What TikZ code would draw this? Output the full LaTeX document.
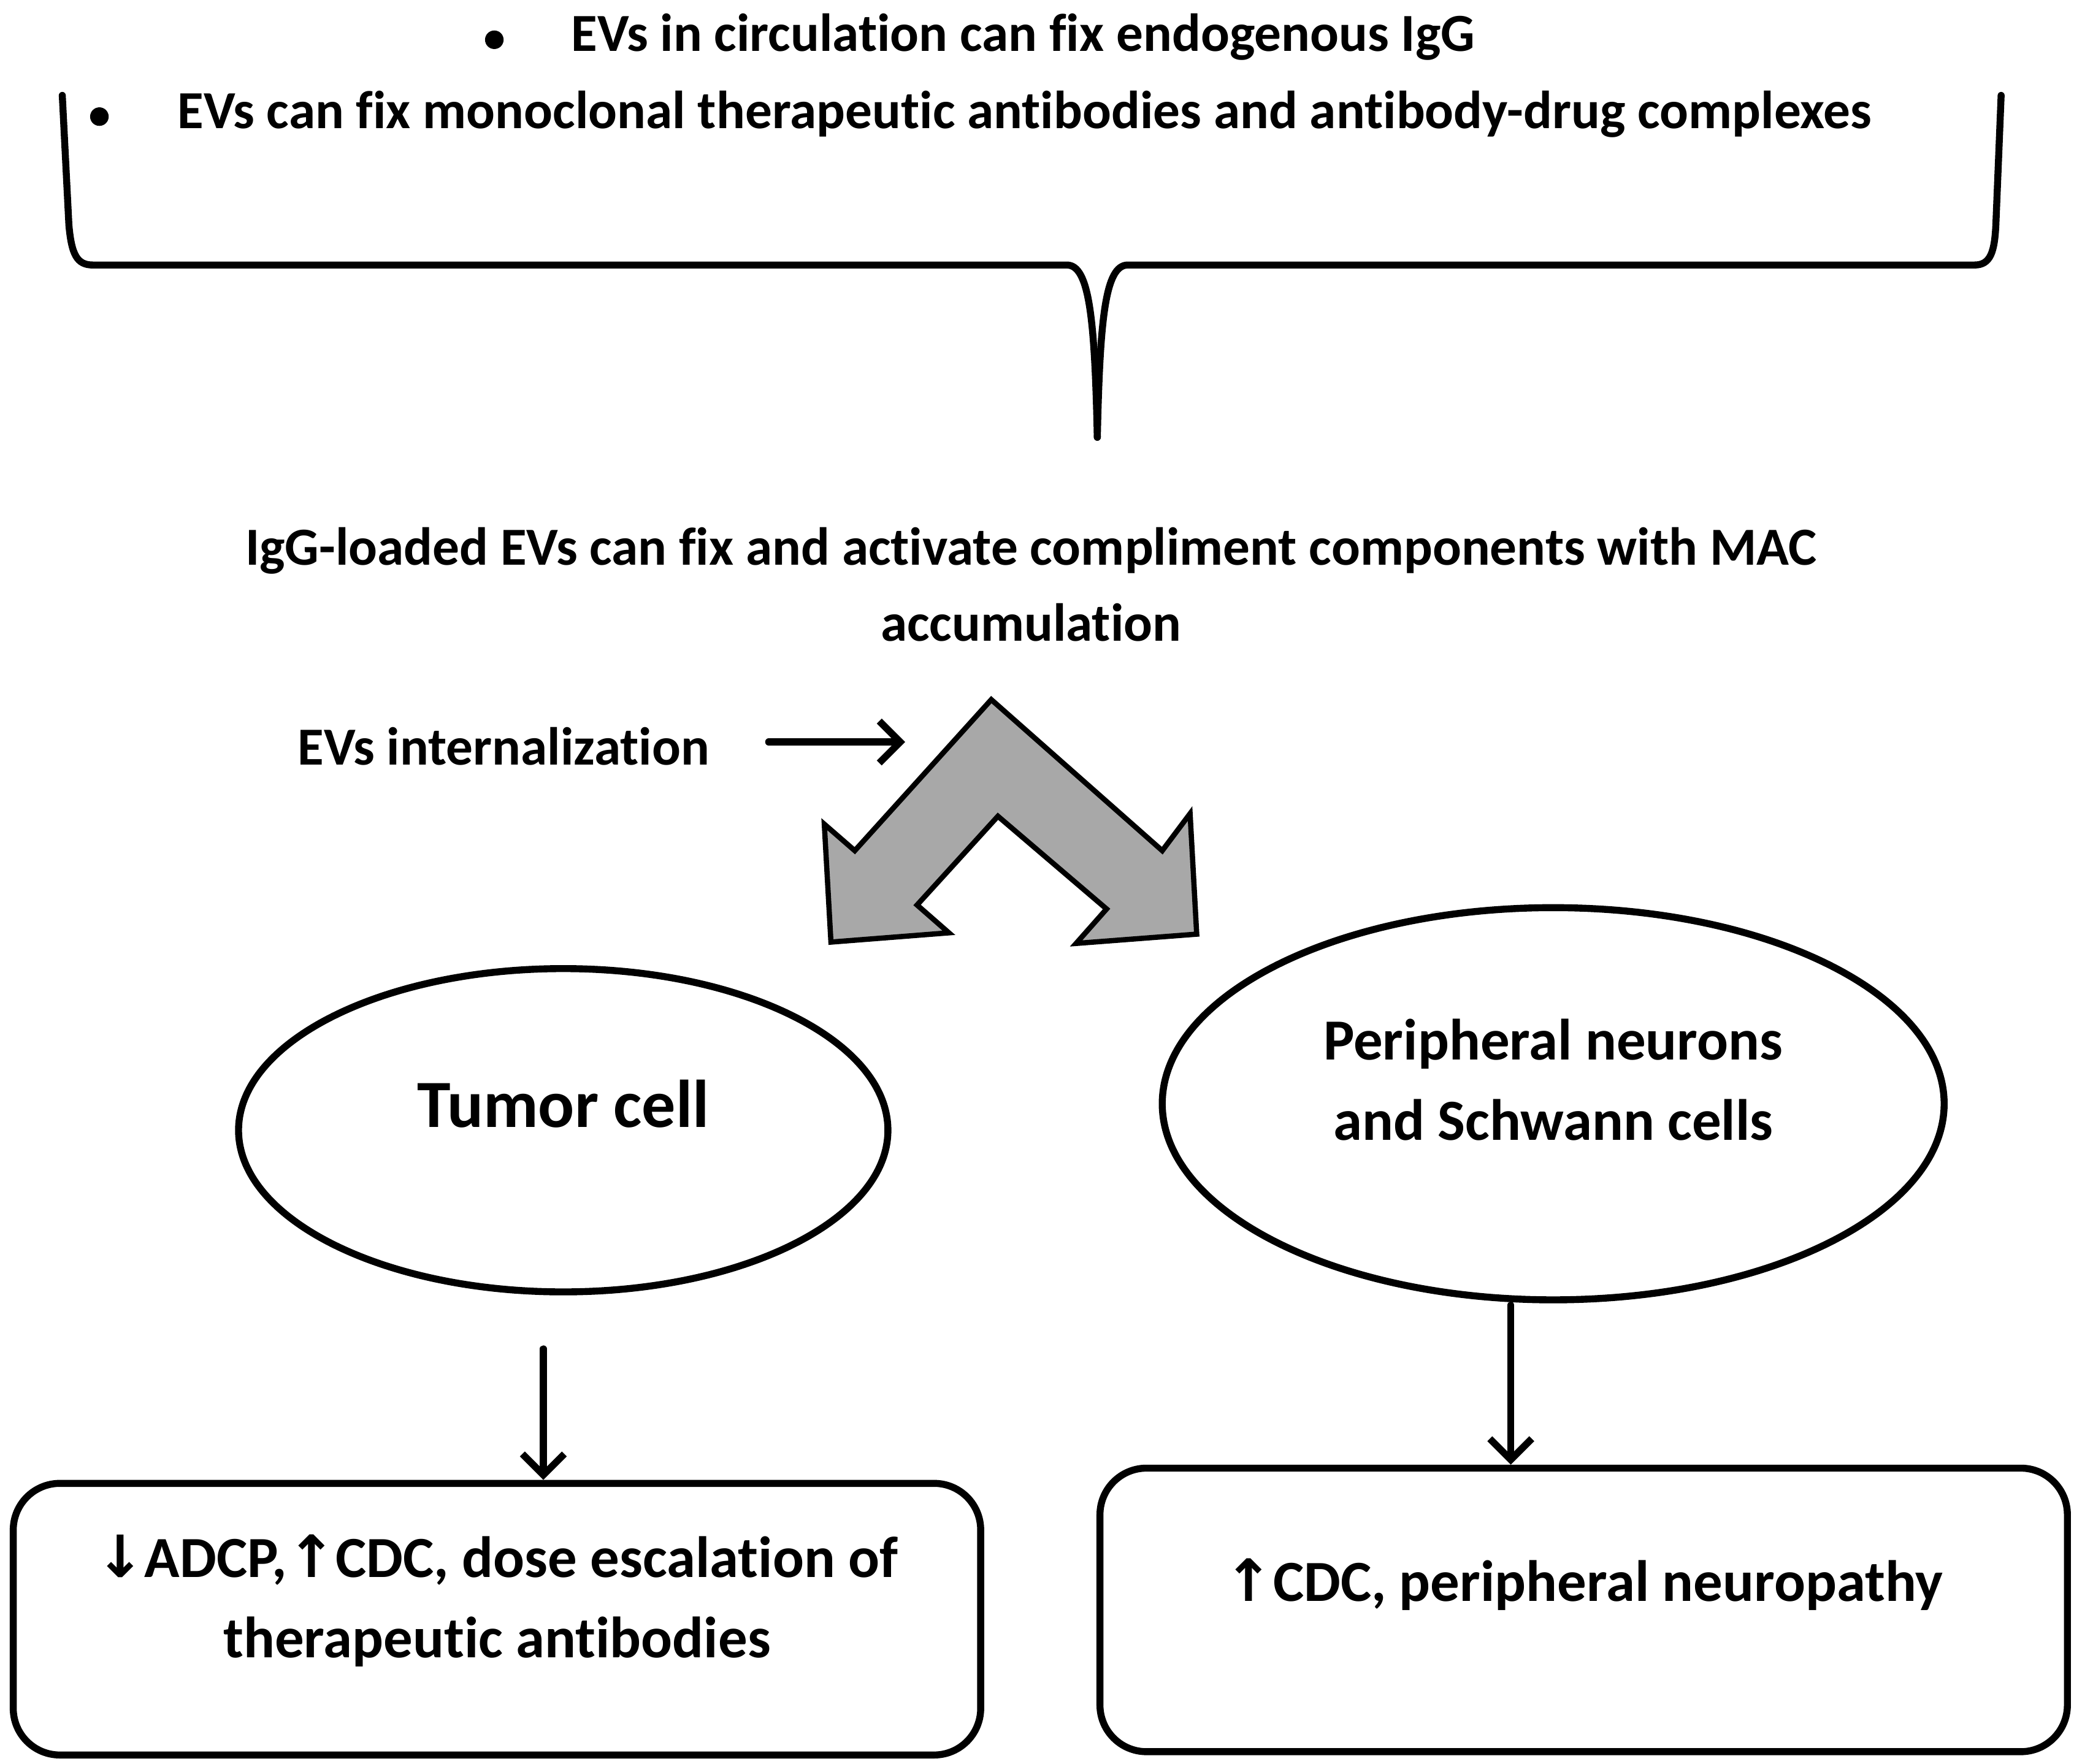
\documentclass[tikz,border=0pt]{standalone}
\usepackage{fontspec}
\setmainfont{Carlito}[Ligatures={NoCommon}]
\newfontfamily\arrf{DejaVu Sans}
\usetikzlibrary{arrows.meta,shapes.geometric}
\begin{document}
\begin{tikzpicture}[x=0.04cm,y=-0.04cm,
  txt/.style={font=\fontsize{46}{65}\selectfont\bfseries, align=center},
  txtb/.style={font=\fontsize{50}{69}\selectfont\bfseries, align=center},
  ln/.style={line width=6pt, line cap=round, line join=round},
  arr/.style={ln, -{Straight Barb[length=18pt,width=36pt,line width=6pt]}},
  ell/.style={ellipse, draw, line width=6pt, inner sep=0pt},
  box/.style={draw, line width=6pt, rounded corners=40pt}]
\useasboundingbox (0,0) rectangle (1565,1331);
% bullets
\fill (373,30) circle (7);
\fill (75,88) circle (7);
\node[txt, anchor=west] (b1) at (428,28) {EVs in circulation can fix endogenous IgG};
\node[txt, anchor=west] (b2) at (131,86) {EVs can fix monoclonal therapeutic antibodies and antibody-drug complexes};
% brace
\draw[ln] (47,72) -- (52,170) .. controls (54,192) and (58,200) .. (70,200) -- (805,200)
  .. controls (822,200) and (826,240) .. (828,330);
\draw[ln] (828,330) .. controls (830,240) and (834,200) .. (851,200) -- (1490,200)
  .. controls (1502,200) and (1505,190) .. (1506,170) -- (1510,72);
% middle text
\node[txt] (mid) at (778,441) {IgG-loaded EVs can fix and activate compliment components with MAC\\accumulation};
\node[txt] (int) at (380,563) {EVs internalization};
\coordinate (a0) at (580,560);
\coordinate (a1) at (683,560);
\draw[arr] (a0) -- (a1);
% chevron
\draw[fill=black!34, line width=4.5pt, line join=miter]
 (748,528) -- (877,642) -- (898,614) -- (903,705) -- (812,712) -- (835,686) -- (753,616)
 -- (692,683) -- (716,704) -- (627,711) -- (622,622) -- (645,642) -- cycle;
% ellipses
\node[ell, minimum width=490*0.04cm, minimum height=244*0.04cm] (e1) at (425,853) {};
\node[font=\fontsize{58}{70}\selectfont\bfseries] (t1) at (425,833) {Tumor cell};
\node[ell, minimum width=590*0.04cm, minimum height=296*0.04cm] (e2) at (1172,833) {};
\node[txtb] (t2) at (1172,815) {Peripheral neurons\\and Schwann cells};
% boxes
\node[box, minimum width=730*0.04cm, minimum height=205*0.04cm] (bx1) at (375,1222) {};
\node[txtb] at (375,1208) {{\arrf↓}ADCP,{\arrf↑}CDC, dose escalation of\\therapeutic antibodies};
\node[box, minimum width=730*0.04cm, minimum height=214*0.04cm] (bx2) at (1195,1215) {};
\node[txtb] at (1195,1196) {{\arrf↑}CDC, peripheral neuropathy};
% arrows
\coordinate (l0) at (410,1018);
\coordinate (r0) at (1140,985);
\draw[arr] (l0) -- (l0 |- bx1.north);
\draw[arr] (r0) -- (r0 |- bx2.north);
\end{tikzpicture}
\end{document}
